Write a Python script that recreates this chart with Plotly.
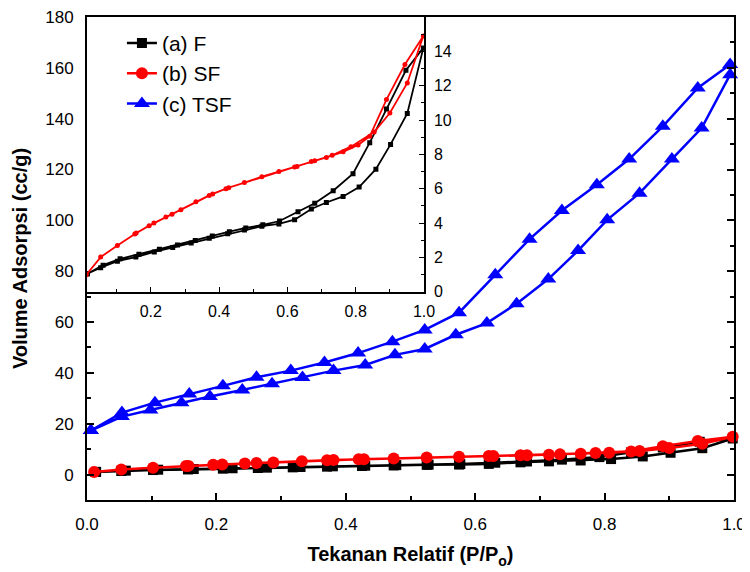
import plotly.graph_objects as go

# ---------------- data ----------------
# (a) F  - adsorption then desorption branch
F_ads_x = [0.014, 0.053, 0.102, 0.156, 0.210, 0.264, 0.318, 0.371, 0.425, 0.474, 0.525,
           0.575, 0.621, 0.670, 0.714, 0.763, 0.810, 0.859, 0.902, 0.951, 0.998]
F_ads_y = [1.05, 1.40, 1.78, 2.02, 2.32, 2.58, 2.84, 3.12, 3.38, 3.60, 3.82,
           3.95, 4.20, 4.82, 5.20, 5.55, 6.10, 7.14, 8.58, 10.38, 14.2]
F_des_x = [0.947, 0.890, 0.841, 0.792, 0.734, 0.680, 0.631, 0.577, 0.528, 0.478,
           0.430, 0.380, 0.330, 0.278, 0.225, 0.165, 0.110, 0.060, 0.014]
F_des_y = [12.9, 10.65, 8.68, 6.87, 5.88, 5.15, 4.66, 4.12, 3.90, 3.72,
           3.50, 3.25, 2.98, 2.72, 2.48, 2.18, 1.92, 1.55, 1.05]

# (b) SF
SF_ads_x = [0.011, 0.053, 0.102, 0.153, 0.195, 0.244, 0.288, 0.332, 0.371, 0.420, 0.474,
            0.525, 0.575, 0.621, 0.670, 0.714, 0.763, 0.807, 0.841, 0.890, 0.944, 0.998]
SF_ads_y = [0.99, 2.02, 2.70, 3.36, 3.85, 4.35, 4.78, 5.24, 5.61, 6.00, 6.37,
            6.70, 7.00, 7.27, 7.58, 7.82, 8.15, 8.55, 9.05, 11.19, 13.23, 14.9]
SF_des_x = [0.951, 0.900, 0.854, 0.786, 0.731, 0.680, 0.628, 0.428, 0.381, 0.262, 0.209, 0.157]
SF_des_y = [12.16, 10.41, 9.30, 8.45, 7.95, 7.63, 7.30, 6.06, 5.70, 4.52, 4.00, 3.42]

# (c) TSF
TSF_ads_x = [0.006, 0.054, 0.098, 0.146, 0.190, 0.240, 0.286, 0.333, 0.381, 0.430, 0.476,
             0.522, 0.570, 0.618, 0.664, 0.713, 0.759, 0.804, 0.854, 0.904, 0.950, 0.994]
TSF_ads_y = [17.3, 22.8, 25.4, 28.3, 30.7, 33.3, 35.7, 38.2, 40.9, 43.1, 47.1,
             49.4, 55.0, 59.6, 67.2, 76.9, 88.1, 100.2, 110.7, 124.1, 136.3, 157.3]
TSF_des_x = [0.994, 0.944, 0.890, 0.838, 0.788, 0.734, 0.684, 0.631, 0.575, 0.522,
             0.472, 0.419, 0.367, 0.315, 0.262, 0.210, 0.158, 0.105, 0.054, 0.006]
TSF_des_y = [161.3, 152.1, 137.0, 124.1, 114.0, 103.9, 92.6, 78.6, 63.7, 56.9,
             52.3, 47.8, 44.1, 40.9, 38.3, 34.9, 31.7, 28.3, 24.4, 17.3]

names = ["(a) F", "(b) SF", "(c) TSF"]
colors = ["#000000", "#ff0000", "#0000ff"]

x_ticks_main = [0.0, 0.2, 0.4, 0.6, 0.8, 1.0]
y_ticks_main = [0, 20, 40, 60, 80, 100, 120, 140, 160, 180]
x_ticks_inset = [0.2, 0.4, 0.6, 0.8, 1.0]
y_ticks_inset = [0, 2, 4, 6, 8, 10, 12, 14]

FONT = "Arial, Liberation Sans, sans-serif"

fig = go.Figure()

series = [
    (F_ads_x + F_des_x, F_ads_y + F_des_y, "square", 10),
    (SF_ads_x + SF_des_x, SF_ads_y + SF_des_y, "circle", 12),
    (TSF_ads_x + TSF_des_x, TSF_ads_y + TSF_des_y, "triangle-up", 14),
]

# main plot
for (xs, ys, sym, sz), nm, col in zip(series, names, colors):
    fig.add_trace(go.Scatter(
        x=xs, y=ys, mode="lines+markers", name=nm,
        line=dict(color=col, width=2.5),
        marker=dict(symbol=sym, size=sz, color=col),
        xaxis="x", yaxis="y", cliponaxis=False,
    ))

# inset (F and SF magnified)
for (xs, ys, sym, sz), nm, col in zip(series[:2], names[:2], colors[:2]):
    fig.add_trace(go.Scatter(
        x=xs, y=ys, mode="lines+markers", name=nm, showlegend=False,
        line=dict(color=col, width=1.8),
        marker=dict(symbol=sym, size=5, color=col),
        xaxis="x2", yaxis="y2",
    ))

axis_common = dict(showline=True, linecolor="black", linewidth=2, showgrid=False,
                   zeroline=False, ticks="inside", tickcolor="black", tickwidth=1.5,
                   automargin=False, ticklabeloverflow="allow",
                   tickfont=dict(family=FONT, size=17, color="black"))

# page has an 8px body margin, so the figure is sized to fit inside it
fig.update_layout(
    width=742, height=564,
    margin=dict(l=79, r=16, t=9, b=72),
    paper_bgcolor="white", plot_bgcolor="white",
    font=dict(family=FONT, color="black"),
    xaxis=dict(**axis_common, range=[0, 1.0], tickvals=x_ticks_main,
               ticktext=[f"{v:.1f}" for v in x_ticks_main], ticklen=7,
               minor=dict(dtick=0.1, ticklen=4, ticks="inside", tickcolor="black", tickwidth=1.5),
               mirror=True, ticklabelstandoff=8,
               title=dict(text="Tekanan Relatif (P/P<sub>o</sub>)", standoff=14,
                          font=dict(family=FONT, size=20, weight="bold", color="black"))),
    yaxis=dict(**axis_common, range=[-10, 180], tickvals=y_ticks_main, ticklen=7,
               minor=dict(dtick=10, tick0=0, ticklen=4, ticks="inside", tickcolor="black", tickwidth=1.5),
               mirror="allticks", ticklabelstandoff=8,
               title=dict(text="Volume Adsorpsi (cc/g)", standoff=12,
                          font=dict(family=FONT, size=20, weight="bold", color="black"))),
    xaxis2=dict(showline=True, linecolor="black", linewidth=1.5, showgrid=False, zeroline=False,
                ticks="inside", tickcolor="black", tickwidth=1.2, ticklen=5, automargin=False,
                ticklabeloverflow="allow",
                tickfont=dict(family=FONT, size=16, color="black"),
                domain=[0, 0.5209], anchor="y2", range=[0.013, 1.0],
                tickvals=x_ticks_inset, ticktext=[f"{v:.1f}" for v in x_ticks_inset],
                minor=dict(dtick=0.1, tick0=0, ticklen=3, ticks="inside", tickcolor="black", tickwidth=1.2),
                ticklabelstandoff=4, mirror=True),
    yaxis2=dict(showline=True, linecolor="black", linewidth=1.5, showgrid=False, zeroline=False,
                ticks="inside", tickcolor="black", tickwidth=1.2, ticklen=5, automargin=False,
                ticklabeloverflow="allow",
                tickfont=dict(family=FONT, size=16, color="black"),
                domain=[0.4311, 1.0], anchor="x2", side="right", range=[0, 16],
                tickvals=y_ticks_inset,
                minor=dict(dtick=1, tick0=0, ticklen=3, ticks="inside", tickcolor="black", tickwidth=1.2),
                ticklabelstandoff=5),
    legend=dict(x=0.054, y=0.988, xanchor="left", yanchor="top",
                bgcolor="rgba(0,0,0,0)", font=dict(family=FONT, size=21, color="black"),
                tracegroupgap=0, itemsizing="trace"),
)

fig.write_html("out.html")
